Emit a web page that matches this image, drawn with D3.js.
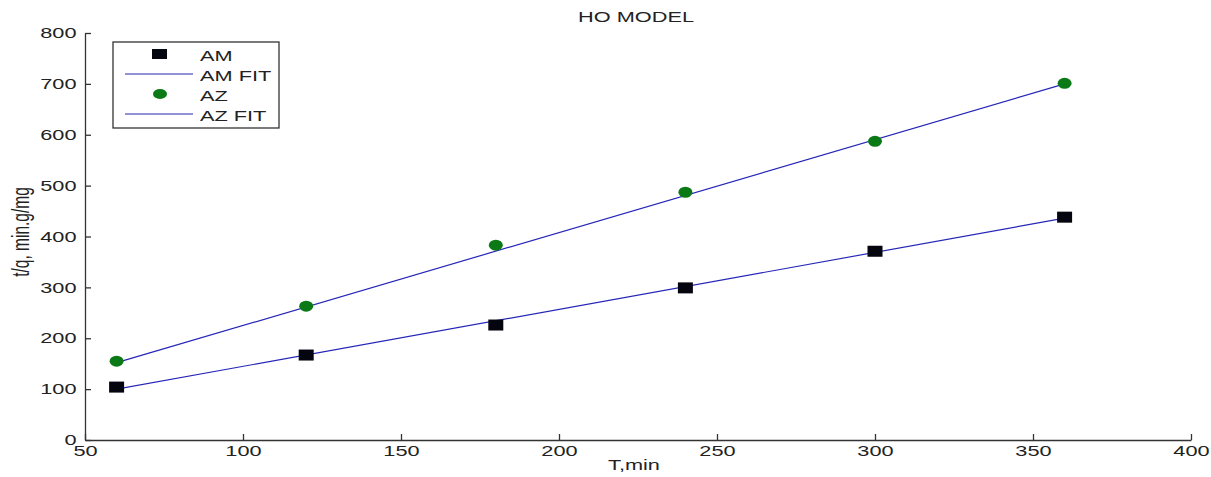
<!DOCTYPE html>
<html><head><meta charset="utf-8">
<script src="https://cdnjs.cloudflare.com/ajax/libs/d3/7.8.5/d3.min.js"></script>
<style>body{margin:0;background:#fff}svg{display:block}text{font-family:"Liberation Sans",Arial,sans-serif;fill:#222}</style>
</head><body><svg id="c" width="1211" height="477"></svg>
<script>
const times = [60, 120, 180, 240, 300, 360];
const amValues = [104, 167, 226, 299, 371, 438];
const azValues = [155, 263, 383, 487, 587, 701];
const fitTimes = [60, 360];
const amFit = [100, 436];
const azFit = [152, 700];
const xTicks = [50, 100, 150, 200, 250, 300, 350, 400];
const yTicks = [0, 100, 200, 300, 400, 500, 600, 700, 800];
const legendLabels = ["AM", "AM FIT", "AZ", "AZ FIT"];

const SX = 1.5, FS = 14.5;
const svg = d3.select("#c");
const x = d3.scaleLinear().domain([50, 400]).range([85, 1191]);
const y = d3.scaleLinear().domain([0, 800]).range([440, 33]);
const lineCol = "#2626b8", green = "#0b7a16";

const xAxis = svg.append("g").attr("transform", "translate(0,440)")
  .call(d3.axisBottom(x).tickValues(xTicks).tickSize(-6).tickPadding(6).tickSizeOuter(0));
const yAxis = svg.append("g").attr("transform", "translate(85,0)")
  .call(d3.axisLeft(y).tickValues(yTicks).tickSize(-6).tickPadding(8.5).tickSizeOuter(0));
[xAxis, yAxis].forEach(a => {
  a.selectAll("path,line").attr("stroke", "#333").attr("stroke-width", 1.3);
  a.selectAll("text").attr("font-size", FS).attr("fill", "#222")
    .attr("font-family", "Liberation Sans, Arial, sans-serif")
    .each(function () {
      const t = d3.select(this);
      const tx = +t.attr("x") || 0;
      t.attr("x", tx / SX).attr("transform", `scale(${SX},1)`);
    });
});

const line = d3.line().x(d => x(d[0])).y(d => y(d[1]));
svg.append("path").datum(fitTimes.map((t, i) => [t, amFit[i]])).attr("d", line)
  .attr("fill", "none").attr("stroke", lineCol).attr("stroke-width", 1.2);
svg.append("path").datum(fitTimes.map((t, i) => [t, azFit[i]])).attr("d", line)
  .attr("fill", "none").attr("stroke", lineCol).attr("stroke-width", 1.2);

svg.selectAll(".am").data(times).enter().append("rect")
  .attr("x", (d) => x(d) - 7.5).attr("y", (d, i) => y(amValues[i]) - 5.5)
  .attr("width", 15).attr("height", 11).attr("fill", "#050510");
svg.selectAll(".az").data(times).enter().append("ellipse")
  .attr("cx", d => x(d)).attr("cy", (d, i) => y(azValues[i]))
  .attr("rx", 7).attr("ry", 5.5).attr("fill", green);

function label(tx, ty, s, anchor, fs, extra) {
  return svg.append("text").attr("transform", `translate(${tx},${ty}) scale(${SX},1)${extra || ""}`)
    .attr("text-anchor", anchor).attr("font-size", fs).text(s);
}

// legend
const lg = svg.append("g");
lg.append("rect").attr("x", 113).attr("y", 42).attr("width", 166).attr("height", 86)
  .attr("fill", "#fff").attr("stroke", "#333").attr("stroke-width", 1.3);
const rows = [54, 74, 94, 114];
lg.append("rect").attr("x", 152).attr("y", rows[0] - 5).attr("width", 15).attr("height", 10).attr("fill", "#050510");
lg.append("line").attr("x1", 125).attr("x2", 193).attr("y1", rows[1]).attr("y2", rows[1]).attr("stroke", lineCol).attr("stroke-width", 1.2);
lg.append("ellipse").attr("cx", 160).attr("cy", rows[2]).attr("rx", 7).attr("ry", 5).attr("fill", green);
lg.append("line").attr("x1", 125).attr("x2", 193).attr("y1", rows[3]).attr("y2", rows[3]).attr("stroke", lineCol).attr("stroke-width", 1.2);
legendLabels.forEach((s, i) => label(200, rows[i] + 6.5, s, "start", FS));

label(636, 22, "HO MODEL", "middle", FS);
label(634, 470, "T,min", "middle", FS);
label(29, 232, "t/q, min.g/mg", "middle", 15.5, " rotate(-90)");
</script></body></html>
